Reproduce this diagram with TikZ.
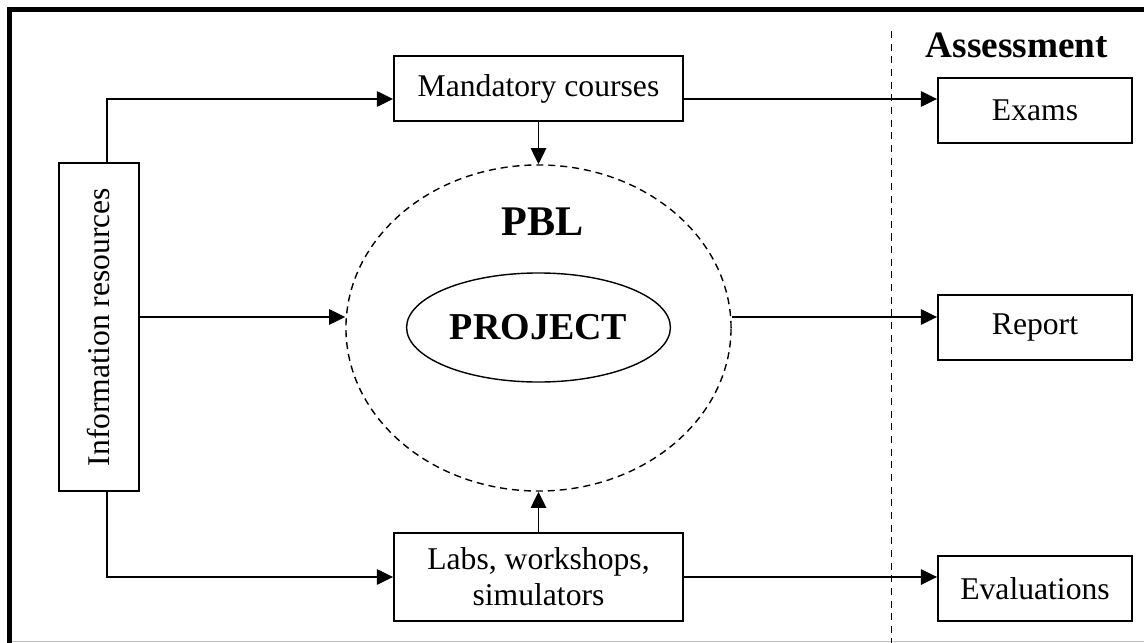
\documentclass[tikz,border=0pt]{standalone}
\usepackage{fontspec}
\setmainfont{Liberation Serif}
\usepackage{graphicx}
\usetikzlibrary{arrows.meta,shapes.geometric,calc}
\tikzstyle{box} = [draw=black, line width=1.3pt, rectangle, inner sep=0pt, align=center, font={\fontsize{22.5}{25.6}\selectfont}]
\tikzstyle{result} = [box, minimum width=4.85cm, minimum height=1.625cm]
\tikzstyle{course} = [box, minimum width=7.225cm]
\tikzstyle{link} = [line width=1pt, -{Triangle[length=11.5pt,width=11pt]}]
\tikzstyle{divider} = [line width=1.4pt, dash pattern=on 5pt off 4pt]
\tikzstyle{heading} = [font={\fontsize{26.5}{30}\selectfont\bfseries}]

\begin{document}
\begin{tikzpicture}[x=0.025cm, y=-0.025cm]
    \useasboundingbox (0,0) rectangle (1144,643);
    % frame
    \draw[line width=3.5pt, line join=miter] (9.5,643) -- (9.5,9.5) -- (1144,9.5);
    \draw[black!25, line width=0.8pt] (12,641.5) -- (1144,641.5);
    \draw[divider] (891.5,31) -- (891.5,643);
    % boxes
    \node[box, minimum width=2cm, minimum height=8.2cm](info) at (99,327){\rotatebox{90}{Information resources}};
    \node[course, minimum height=1.625cm](mandatory) at (538.5,88.5){Mandatory courses};
    \node[course, minimum height=2.2cm](labs) at (538.5,577){Labs, workshops,\\simulators};
    \node[draw, line width=1pt, dash pattern=on 5pt off 3.5pt, ellipse, minimum width=9.625cm, minimum height=8.15cm](pbl) at (538.5,328){};
    \node[heading, font={\fontsize{30}{34}\selectfont\bfseries}](pbl label) at (543,222){PBL};
    \node[draw, line width=1pt, ellipse, minimum width=6.425cm, minimum height=2.725cm, font={\fontsize{27}{30}\selectfont\bfseries}](project) at (538.5,327.5){PROJECT};
    \node[heading](assessment) at (1017,45){Assessment};
    \node[result](exams) at (1035,110.5){Exams};
    \node[result](report) at (1035,327.5){Report};
    \node[result](evals) at (1035,588.5){Evaluations};
    % connectors
    \draw[link] ($(info.north)+(8,0)$) |- ($(mandatory.west)+(0,10.5)$);
    \draw[link] ($(mandatory.east)+(0,10.5)$) coordinate (m) -- (m -| exams.west);
    \draw[link] (mandatory.south) -- (pbl.north);
    \draw[link] ($(info.east)+(0,-10)$) coordinate (i) -- (i -| pbl.west);
    \draw[link] (i -| pbl.east) -- (i -| report.west);
    \draw[link] ($(info.south)+(8,0)$) |- (labs.west);
    \draw[link] (labs.north) -- (pbl.south);
    \draw[link] (labs.east) -- (labs.east -| evals.west);
  \end{tikzpicture}
\end{document}
